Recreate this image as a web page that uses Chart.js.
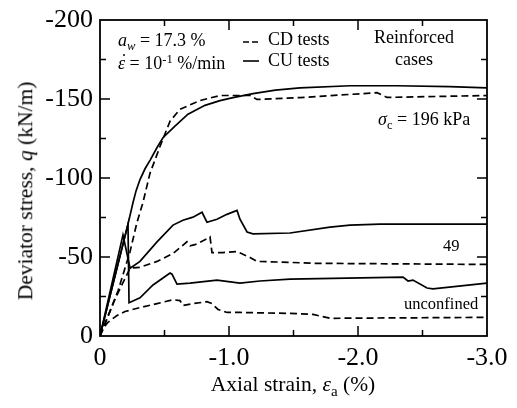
<!DOCTYPE html>
<html>
<head>
<meta charset="utf-8">
<script src="https://cdn.jsdelivr.net/npm/chart.js@4.4.1/dist/chart.umd.min.js"></script>
<style>
  html, body { margin: 0; padding: 0; background: #fff; }
  #wrap { position: relative; width: 517px; height: 408px; overflow: hidden; }
  #c { position: absolute; left: 0; top: 0; }
  .t { position: absolute; font-family: "Liberation Serif", "Times New Roman", serif; font-size: 18px; line-height: 18px; color: #000; white-space: nowrap; }
  .t sub, .t sup { font-size: 0.7em; vertical-align: baseline; position: relative; line-height: 0; }
  .t sub { top: 0.3em; }
  .t sup { top: -0.45em; }
  .ax { font-size: 21.5px; line-height: 21.5px; }
  .sm { font-size: 16.5px; line-height: 16.5px; }
  .dotwrap { position: relative; display: inline-block; }
  .dot { position: absolute; left: 3px; top: -2px; font-style: normal; }
</style>
</head>
<body>
<div id="wrap">
  <canvas id="c" width="517" height="408"></canvas>
  <div class="t" style="left:118px;top:31px;"><i>a<sub>w</sub></i> = 17.3 %</div>
  <div class="t" style="left:118px;top:54px;"><span class="dotwrap"><i>ε</i><span class="dot">˙</span></span> = 10<sup>-1</sup> %/min</div>
  <div class="t" style="left:268px;top:30px;">CD tests</div>
  <div class="t" style="left:268px;top:51px;">CU tests</div>
  <div class="t" style="left:364px;top:28px;width:100px;text-align:center;">Reinforced</div>
  <div class="t" style="left:364px;top:50px;width:100px;text-align:center;">cases</div>
  <div class="t" style="left:378px;top:110px;"><i>σ</i><sub>c</sub> = 196 kPa</div>
  <div class="t sm" style="left:443px;top:238px;">49</div>
  <div class="t sm" style="left:404px;top:296px;">unconfined</div>
  <div class="t ax" style="left:193px;top:374px;width:200px;text-align:center;">Axial strain, <i>ε</i><sub>a</sub> (%)</div>
  <div class="t ax" style="left:25.7px;top:191px;transform:translate(-50%,-50%) rotate(-90deg);">Deviator stress, <i>q</i> (kN/m)</div>
</div>
<script>
// ---- Data (axial strain in %, deviator stress in kN/m) ----
const xTickValues = [0, -1, -2, -3];
const xTickLabels = ['0', '-1.0', '-2.0', '-3.0'];
const yTickValues = [0, -50, -100, -150, -200];
const yTickLabels = ['0', '-50', '-100', '-150', '-200'];

// sigma_c = 196 kPa, CU (solid)
const cu196Strain = [0, -0.217, -0.256, -0.28, -0.31, -0.35, -0.39, -0.44, -0.488, -0.581, -0.682, -0.814, -0.93, -1.031, -1.186, -1.36, -1.55, -1.94, -2.3, -2.71, -3.0];
const cu196Q      = [0, -70.8, -84.5, -92, -99, -106, -111.5, -119, -125.5, -132.9, -140.4, -146, -149, -150.9, -153.4, -155.6, -157.1, -158.4, -158.4, -157.8, -157.1];
// sigma_c = 196 kPa, CD (dashed)
const cd196Strain = [0, -0.14, -0.233, -0.287, -0.333, -0.388, -0.465, -0.543, -0.62, -0.775, -0.93, -1.163, -1.217, -1.55, -2.147, -2.225, -3.0];
const cd196Q      = [0, -28.6, -53.4, -72, -84.5, -103.1, -119.9, -136, -143.5, -149, -152.2, -152.2, -149.7, -150.9, -154, -151, -152.2];
// sigma_c = 49 kPa, CU (solid)
const cu49Strain = [0, -0.178, -0.233, -0.31, -0.442, -0.566, -0.643, -0.721, -0.791, -0.829, -0.907, -0.984, -1.062, -1.085, -1.14, -1.186, -1.473, -1.783, -1.938, -2.171, -3.0];
const cu49Q      = [0, -64, -42.9, -47.2, -59.6, -70.2, -73.3, -75.2, -78.3, -72, -73.9, -77, -79.5, -73.9, -65.8, -64.6, -65.2, -68.9, -70.2, -70.8, -70.8];
// sigma_c = 49 kPa, CD (dashed)
const cd49Strain = [0, -0.12, -0.233, -0.31, -0.442, -0.566, -0.674, -0.698, -0.736, -0.829, -0.853, -0.868, -0.953, -1.062, -1.163, -1.217, -1.473, -1.651, -3.0];
const cd49Q      = [0, -24, -42.9, -43.5, -47.2, -52.2, -59.6, -57.1, -57.8, -61.5, -62.7, -52.8, -52.8, -53.4, -49.7, -47.2, -46.6, -46, -45.3];
// unconfined, CU (solid)
const cuUncStrain = [0, -0.217, -0.225, -0.31, -0.411, -0.543, -0.558, -0.597, -0.698, -0.907, -1.085, -1.24, -1.473, -1.915, -2.349, -2.388, -2.426, -2.535, -2.581, -3.0];
const cuUncQ      = [0, -70.8, -21.1, -24.2, -32.3, -39.8, -39.1, -32.9, -33.5, -35.4, -33.5, -34.8, -36, -36.6, -37.3, -34.8, -35.4, -30.4, -29.8, -33.5];
// unconfined, CD (dashed)
const cdUncStrain = [0, -0.031, -0.062, -0.132, -0.194, -0.31, -0.442, -0.566, -0.62, -0.643, -0.721, -0.829, -0.868, -0.915, -0.984, -1.085, -1.473, -1.651, -1.783, -3.0];
const cdUncQ      = [0, -5.6, -8.7, -13, -15.5, -18, -20.5, -23, -22.4, -19.3, -20.5, -21.7, -20.5, -16.8, -14.9, -14.9, -14.3, -13.7, -11.2, -11.8];

function pts(xs, ys) { return xs.map((x, i) => ({ x: x, y: ys[i] })); }

function series(label, xs, ys, dashed) {
  return {
    label: label,
    data: pts(xs, ys),
    showLine: true,
    borderColor: '#000',
    backgroundColor: '#000',
    borderWidth: 1.7,
    borderDash: dashed ? [7, 4] : [],
    pointRadius: 0,
    tension: 0,
    fill: false
  };
}

const tickFont = { family: 'Liberation Serif', size: 26, lineHeight: 1 };

function labelFor(values, labels, v) {
  for (let i = 0; i < values.length; i++) {
    if (Math.abs(values[i] - v) < 1e-9) return labels[i];
  }
  return '';
}

const framePlugin = {
  id: 'frame',
  afterDraw(chart) {
    const ctx = chart.ctx;
    const a = chart.chartArea;
    const xs = chart.scales.x, ys = chart.scales.y;
    ctx.save();
    ctx.strokeStyle = '#000';
    ctx.lineWidth = 1.8;
    ctx.setLineDash([]);
    ctx.strokeRect(a.left, a.top, a.right - a.left, a.bottom - a.top);
    ctx.lineWidth = 1.5;
    ctx.beginPath();
    xs.ticks.forEach(t => {
      const p = xs.getPixelForValue(t.value);
      if (Math.abs(p - a.left) < 1 || Math.abs(p - a.right) < 1) return;
      const len = t.label ? 10 : 6;
      ctx.moveTo(p, a.bottom); ctx.lineTo(p, a.bottom - len);
      ctx.moveTo(p, a.top); ctx.lineTo(p, a.top + len);
    });
    ys.ticks.forEach(t => {
      const p = ys.getPixelForValue(t.value);
      if (Math.abs(p - a.top) < 1 || Math.abs(p - a.bottom) < 1) return;
      const len = t.label ? 10 : 6;
      ctx.moveTo(a.left, p); ctx.lineTo(a.left + len, p);
      ctx.moveTo(a.right, p); ctx.lineTo(a.right - len, p);
    });
    ctx.stroke();
    // legend samples
    ctx.lineWidth = 1.6;
    ctx.beginPath();
    ctx.setLineDash([6, 3]);
    ctx.moveTo(243, 42); ctx.lineTo(259, 42);
    ctx.stroke();
    ctx.beginPath();
    ctx.setLineDash([]);
    ctx.moveTo(243, 61); ctx.lineTo(259, 61);
    ctx.stroke();
    ctx.restore();
  }
};

new Chart(document.getElementById('c'), {
  type: 'scatter',
  data: {
    datasets: [
      series('CU 196 kPa', cu196Strain, cu196Q, false),
      series('CD 196 kPa', cd196Strain, cd196Q, true),
      series('CU 49 kPa', cu49Strain, cu49Q, false),
      series('CD 49 kPa', cd49Strain, cd49Q, true),
      series('CU unconfined', cuUncStrain, cuUncQ, false),
      series('CD unconfined', cdUncStrain, cdUncQ, true)
    ]
  },
  options: {
    responsive: false,
    animation: false,
    layout: { padding: { left: 0, top: 14, right: 30, bottom: 0 } },
    plugins: { legend: { display: false }, tooltip: { enabled: false } },
    scales: {
      x: {
        type: 'linear', reverse: true, min: -3, max: 0,
        grid: { display: false, drawTicks: false, tickLength: 0 },
        border: { display: false },
        ticks: {
          stepSize: 0.5, autoSkip: false, maxRotation: 0, minRotation: 0, padding: 9,
          color: '#000', font: tickFont,
          callback: v => labelFor(xTickValues, xTickLabels, v)
        },
        afterFit: s => { s.height = 72; }
      },
      y: {
        type: 'linear', reverse: true, min: -200, max: 0,
        grid: { display: false, drawTicks: false, tickLength: 0 },
        border: { display: false },
        ticks: {
          stepSize: 25, autoSkip: false, padding: 7,
          color: '#000', font: tickFont,
          callback: v => labelFor(yTickValues, yTickLabels, v)
        },
        afterFit: s => { s.width = 100; }
      }
    }
  },
  plugins: [framePlugin]
});
</script>
</body>
</html>
